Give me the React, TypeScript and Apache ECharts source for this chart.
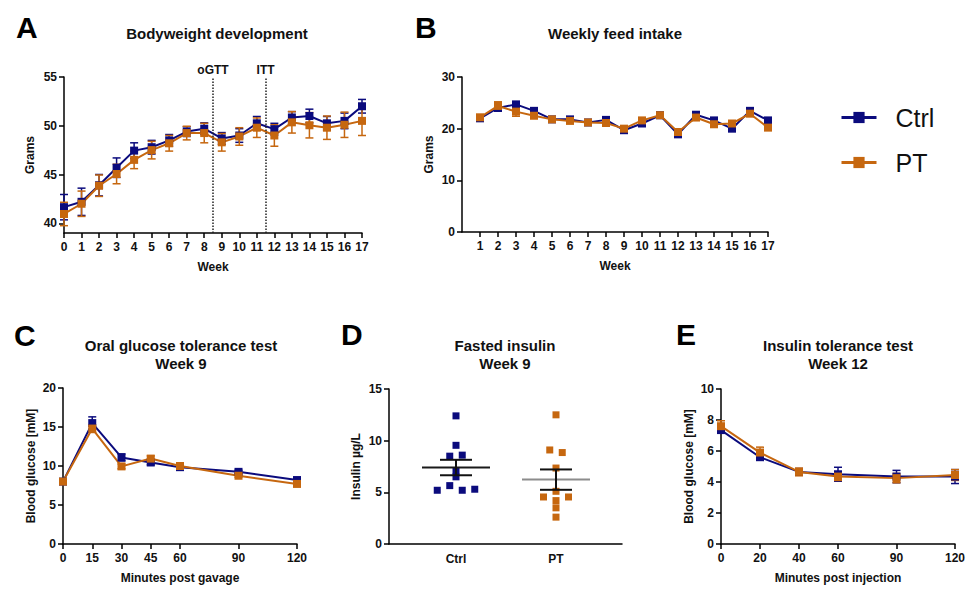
import React, { useEffect, useRef } from "react";
import * as echarts from "echarts";

const FONT = "'Liberation Sans', Arial, Helvetica, sans-serif";
const CTRL_COLOR = "#0b0b7d";
const PT_COLOR = "#c6670f";

// ---------- Panel A: Bodyweight development ----------
const weeksA = [0, 1, 2, 3, 4, 5, 6, 7, 8, 9, 10, 11, 12, 13, 14, 15, 16, 17];
const bwCtrl = [41.65, 42.2, 43.9, 45.7, 47.45, 47.8, 48.5, 49.4, 49.7, 48.7, 49.0, 50.25, 49.65, 50.85, 51.0, 50.25, 50.5, 52.0];
const bwCtrlSem = [1.3, 1.4, 1.1, 1.0, 0.8, 0.7, 0.6, 0.5, 0.6, 0.6, 0.7, 0.7, 0.6, 0.6, 0.7, 0.7, 0.8, 0.7];
const bwPT = [40.95, 42.0, 43.85, 45.05, 46.5, 47.5, 48.2, 49.25, 49.25, 48.3, 48.9, 49.8, 49.0, 50.35, 50.05, 49.8, 50.1, 50.5];
const bwPTSem = [1.2, 1.3, 1.1, 1.0, 0.9, 0.9, 0.8, 0.7, 1.0, 0.9, 0.9, 1.0, 1.1, 1.1, 1.3, 1.2, 1.3, 1.5];
const bwTicks = [40, 45, 50, 55];
const eventWeeks = [8.5, 11.5];
const eventLabels = ["oGTT", "ITT"];

// ---------- Panel B: Weekly feed intake ----------
const weeksB = [1, 2, 3, 4, 5, 6, 7, 8, 9, 10, 11, 12, 13, 14, 15, 16, 17];
const feedCtrl = [22.0, 24.0, 24.7, 23.45, 21.8, 21.8, 21.2, 21.7, 19.7, 21.0, 22.6, 18.9, 22.7, 21.6, 20.0, 23.45, 21.6];
const feedCtrlSem = [0.4, 0.4, 0.4, 0.3, 0.3, 0.3, 0.2, 0.3, 0.3, 0.3, 0.3, 0.4, 0.3, 0.3, 0.3, 0.3, 0.4];
const feedPT = [22.2, 24.4, 23.3, 22.5, 21.8, 21.5, 21.2, 21.1, 20.0, 21.6, 22.6, 19.35, 22.15, 20.85, 21.0, 22.9, 20.2];
const feedPTSem = [0.5, 0.8, 0.9, 0.4, 0.3, 0.3, 0.3, 0.3, 0.3, 0.3, 0.3, 0.4, 0.3, 0.4, 0.3, 0.3, 0.4];

// ---------- Panel C: oGTT ----------
const ogttTimes = [0, 15, 30, 45, 60, 90, 120];
const ogttCtrl = [8.0, 15.5, 11.1, 10.45, 9.85, 9.25, 8.2];
const ogttCtrlSem = [0.15, 0.8, 0.45, 0.3, 0.2, 0.2, 0.15];
const ogttPT = [8.0, 14.8, 9.95, 10.95, 10.0, 8.75, 7.7];
const ogttPTSem = [0.15, 0.5, 0.3, 0.35, 0.25, 0.2, 0.15];

// ---------- Panel D: Fasted insulin ----------
const insulinGroups = ["Ctrl", "PT"];
const insulinCtrl = [12.4, 9.55, 8.5, 8.6, 7.1, 6.5, 5.2, 5.65, 5.2, 5.3];
const insulinPT = [12.5, 9.1, 8.85, 7.35, 5.1, 4.55, 4.2, 4.55, 3.5, 2.6];

// ---------- Panel E: ITT ----------
const ittTimes = [0, 20, 40, 60, 90, 120];
const ittCtrl = [7.35, 5.6, 4.65, 4.5, 4.35, 4.35];
const ittCtrlSem = [0.15, 0.15, 0.2, 0.45, 0.4, 0.45];
const ittPT = [7.6, 5.9, 4.65, 4.35, 4.25, 4.45];
const ittPTSem = [0.35, 0.35, 0.25, 0.25, 0.3, 0.35];

// ---------- helpers ----------
function errorBarRender(capHalf: number) {
  return (_params: any, api: any) => {
    const x = api.value(0);
    const y = api.value(1);
    const e = api.value(2);
    const hi = api.coord([x, y + e]);
    const lo = api.coord([x, y - e]);
    const style = { stroke: api.visual("color"), lineWidth: 1.5 };
    return {
      type: "group",
      children: [
        { type: "line", shape: { x1: hi[0], y1: hi[1], x2: lo[0], y2: lo[1] }, style },
        { type: "line", shape: { x1: hi[0] - capHalf, y1: hi[1], x2: hi[0] + capHalf, y2: hi[1] }, style },
        { type: "line", shape: { x1: lo[0] - capHalf, y1: lo[1], x2: lo[0] + capHalf, y2: lo[1] }, style },
      ],
    };
  };
}

function lineWithErr(name: string, idx: number, xs: number[], ys: number[], errs: number[], color: string, extra: any = {}) {
  return [
    {
      type: "line",
      name,
      xAxisIndex: idx,
      yAxisIndex: idx,
      data: xs.map((x, i) => [x, ys[i]]),
      symbol: "rect",
      symbolSize: 8,
      lineStyle: { color, width: 2 },
      itemStyle: { color },
      z: 3,
      ...extra,
    },
    {
      type: "custom",
      name: name + " SEM",
      xAxisIndex: idx,
      yAxisIndex: idx,
      renderItem: errorBarRender(4),
      data: xs.map((x, i) => [x, ys[i], errs[i]]),
      encode: { x: 0, y: 1 },
      itemStyle: { color },
      silent: true,
      z: 2,
    },
  ];
}

function swarm(values: number[], center: number, thresh: number, step: number) {
  const rows: { v0: number; idx: number[] }[] = [];
  values.forEach((v, i) => {
    const last = rows[rows.length - 1];
    if (last && Math.abs(last.v0 - v) <= thresh) last.idx.push(i);
    else rows.push({ v0: v, idx: [i] });
  });
  const out: number[][] = new Array(values.length);
  rows.forEach((r) => {
    const n = r.idx.length;
    r.idx.forEach((i, k) => {
      out[i] = [center + (k - (n - 1) / 2) * step, values[i]];
    });
  });
  return out;
}

function meanSem(values: number[]) {
  const n = values.length;
  const m = values.reduce((a, b) => a + b, 0) / n;
  const sd = Math.sqrt(values.reduce((a, b) => a + (b - m) * (b - m), 0) / (n - 1));
  return [m, sd / Math.sqrt(n)];
}

const axisLineStyle = { color: "#000", width: 1.5 };
const labelStyle = { color: "#111", fontSize: 12, fontWeight: "bold", fontFamily: FONT };

function makeAxis(gridIndex: number, o: any) {
  const tick: any = { show: o.showTick !== false, length: 5, lineStyle: axisLineStyle };
  const label: any = { ...labelStyle, margin: o.margin ?? 7 };
  if (o.values) {
    tick.customValues = o.values;
    label.customValues = o.values;
  }
  if (o.formatter) label.formatter = o.formatter;
  const ax: any = {
    type: "value",
    gridIndex,
    min: o.min,
    max: o.max,
    axisLine: { show: true, onZero: false, lineStyle: axisLineStyle },
    axisTick: tick,
    axisLabel: label,
    splitLine: { show: false },
  };
  if (o.interval !== undefined) ax.interval = o.interval;
  if (o.name) {
    ax.name = o.name;
    ax.nameLocation = "middle";
    ax.nameGap = o.nameGap;
    ax.nameTextStyle = { ...labelStyle };
  }
  return ax;
}

export default function App() {
  const ref = useRef<HTMLDivElement>(null);

  useEffect(() => {
    if (!ref.current) return;
    const chart = echarts.init(ref.current, undefined, { renderer: "svg" });

    const ctrlStats = meanSem(insulinCtrl);
    const ptStats = meanSem(insulinPT);
    const meanLineColors = ["#1a1a1a", "#8c8c8c"];

    const letter = (t: string, x: number, y: number) => ({
      type: "text",
      x,
      y,
      style: { text: t, fontSize: 30, fontWeight: "bold", fontFamily: FONT, fill: "#000", align: "left", verticalAlign: "middle" },
    });
    const title = (t: string, x: number, y: number) => ({
      type: "text",
      x,
      y,
      style: { text: t, fontSize: 15, fontWeight: "bold", fontFamily: FONT, fill: "#111", align: "center", verticalAlign: "top", lineHeight: 18 },
    });

    const option: any = {
      animation: false,
      backgroundColor: "#fff",
      textStyle: { fontFamily: FONT },
      grid: [
        { left: 64, top: 77, width: 298, height: 156 },
        { left: 462, top: 77, width: 306, height: 155 },
        { left: 63, top: 388, width: 234, height: 156 },
        { left: 389, top: 389, width: 233, height: 155 },
        { left: 721, top: 389, width: 234, height: 155 },
      ],
      xAxis: [
        makeAxis(0, { min: 0, max: 17, interval: 1, name: "Week", nameGap: 28, margin: 8 }),
        makeAxis(1, { min: 0, max: 17, values: weeksB, name: "Week", nameGap: 28, margin: 8 }),
        makeAxis(2, { min: 0, max: 120, values: ogttTimes, name: "Minutes post gavage", nameGap: 28, margin: 8 }),
        makeAxis(3, {
          min: -0.67,
          max: 1.66,
          values: [0, 1],
          showTick: false,
          margin: 9,
          formatter: (v: number) => insulinGroups[Math.round(v)],
        }),
        makeAxis(4, { min: 0, max: 120, values: ittTimes, name: "Minutes post injection", nameGap: 28, margin: 8 }),
      ],
      yAxis: [
        makeAxis(0, { min: 39, max: 55, values: bwTicks, name: "Grams", nameGap: 28 }),
        makeAxis(1, { min: 0, max: 30, interval: 10, name: "Grams", nameGap: 27 }),
        makeAxis(2, { min: 0, max: 20, interval: 5, name: "Blood glucose [mM]", nameGap: 26 }),
        makeAxis(3, { min: 0, max: 15, interval: 5, name: "Insulin µg/L", nameGap: 27 }),
        makeAxis(4, { min: 0, max: 10, interval: 2, name: "Blood glucose [mM]", nameGap: 26 }),
      ],
      legend: {
        data: ["Ctrl", "PT"],
        orient: "vertical",
        left: 840,
        top: 105,
        itemWidth: 35,
        itemHeight: 14,
        itemGap: 20,
        padding: 0,
        selectedMode: false,
        lineStyle: { width: 3 },
        textStyle: { fontSize: 25, fontFamily: FONT, color: "#111", padding: [0, 0, 0, 14] },
      },
      graphic: [
        letter("A", 16, 27),
        letter("B", 415, 27),
        letter("C", 14, 335),
        letter("D", 341, 334),
        letter("E", 676, 334),
        title("Bodyweight development", 217, 24),
        title("Weekly feed intake", 615, 24),
        title("Oral glucose tolerance test\nWeek 9", 181, 336),
        title("Fasted insulin\nWeek 9", 505, 336),
        title("Insulin tolerance test\nWeek 12", 838, 336),
      ],
      series: [
        ...lineWithErr("Ctrl", 0, weeksA, bwCtrl, bwCtrlSem, CTRL_COLOR, {
          markLine: {
            silent: true,
            symbol: ["none", "none"],
            lineStyle: { type: "dotted", color: "#222", width: 1.5 },
            label: { position: "end", distance: 1, fontSize: 12, fontWeight: "bold", fontFamily: FONT, color: "#111" },
            data: eventWeeks.map((w, i) => ({ xAxis: w, label: { formatter: eventLabels[i] } })),
          },
        }),
        ...lineWithErr("PT", 0, weeksA, bwPT, bwPTSem, PT_COLOR),
        ...lineWithErr("Ctrl", 1, weeksB, feedCtrl, feedCtrlSem, CTRL_COLOR),
        ...lineWithErr("PT", 1, weeksB, feedPT, feedPTSem, PT_COLOR),
        ...lineWithErr("Ctrl", 2, ogttTimes, ogttCtrl, ogttCtrlSem, CTRL_COLOR),
        ...lineWithErr("PT", 2, ogttTimes, ogttPT, ogttPTSem, PT_COLOR),
        ...lineWithErr("Ctrl", 4, ittTimes, ittCtrl, ittCtrlSem, CTRL_COLOR),
        ...lineWithErr("PT", 4, ittTimes, ittPT, ittPTSem, PT_COLOR),
        {
          type: "scatter",
          name: "Ctrl insulin",
          xAxisIndex: 3,
          yAxisIndex: 3,
          symbol: "rect",
          symbolSize: 7,
          itemStyle: { color: CTRL_COLOR, opacity: 1 },
          data: swarm(insulinCtrl, 0, 0.52, 0.125),
          z: 3,
        },
        {
          type: "scatter",
          name: "PT insulin",
          xAxisIndex: 3,
          yAxisIndex: 3,
          symbol: "rect",
          symbolSize: 7,
          itemStyle: { color: PT_COLOR, opacity: 1 },
          data: swarm(insulinPT, 1, 0.52, 0.125),
          z: 3,
        },
        {
          type: "custom",
          name: "insulin mean",
          xAxisIndex: 3,
          yAxisIndex: 3,
          silent: true,
          z: 4,
          encode: { x: 0, y: 1 },
          data: [
            [0, ctrlStats[0], ctrlStats[1]],
            [1, ptStats[0], ptStats[1]],
          ],
          renderItem: (params: any, api: any) => {
            const x = api.value(0);
            const m = api.value(1);
            const s = api.value(2);
            const c = api.coord([x, m]);
            const hi = api.coord([x, m + s]);
            const lo = api.coord([x, m - s]);
            const sem = { stroke: "#111", lineWidth: 2 };
            return {
              type: "group",
              children: [
                { type: "line", shape: { x1: c[0] - 34, y1: c[1], x2: c[0] + 34, y2: c[1] }, style: { stroke: meanLineColors[params.dataIndex], lineWidth: 2 } },
                { type: "line", shape: { x1: hi[0], y1: hi[1], x2: lo[0], y2: lo[1] }, style: sem },
                { type: "line", shape: { x1: hi[0] - 16, y1: hi[1], x2: hi[0] + 16, y2: hi[1] }, style: sem },
                { type: "line", shape: { x1: lo[0] - 16, y1: lo[1], x2: lo[0] + 16, y2: lo[1] }, style: sem },
              ],
            };
          },
        },
      ],
    };

    chart.setOption(option);
    return () => chart.dispose();
  }, []);

  return <div ref={ref} style={{ position: "absolute", left: 0, top: 0, width: 971, height: 590 }} />;
}
